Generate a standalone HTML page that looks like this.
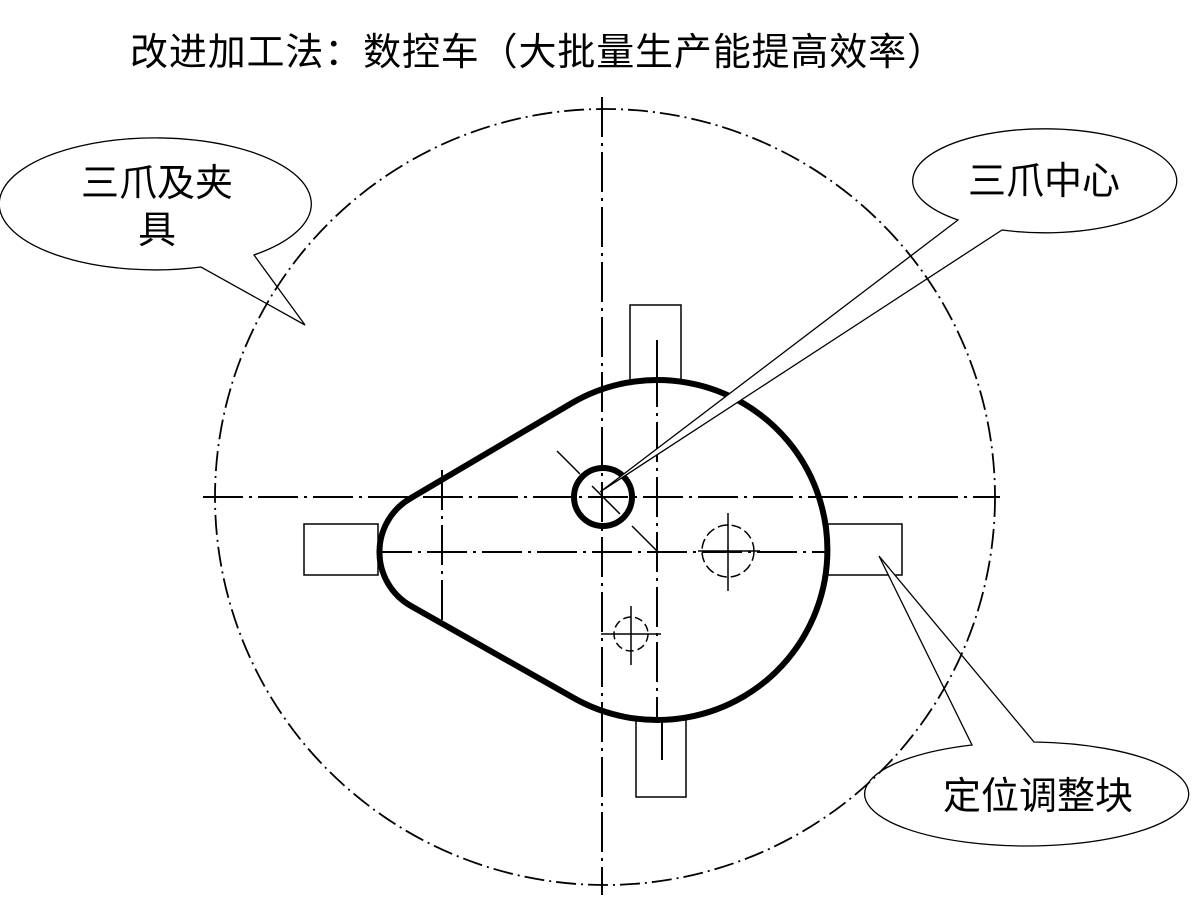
<!DOCTYPE html>
<html><head><meta charset="utf-8"><style>
html,body{margin:0;padding:0;background:#fff;width:1200px;height:900px;overflow:hidden}
svg{display:block}
text{font-family:"Liberation Sans","Noto Sans CJK SC",sans-serif;fill:#000}
</style></head><body>
<svg width="1200" height="900" viewBox="0 0 1200 900" xmlns="http://www.w3.org/2000/svg">
<text x="130" y="65" font-size="38" textLength="815" lengthAdjust="spacing">改进加工法：数控车（大批量生产能提高效率）</text>

<!-- center lines -->
<g stroke="#000" stroke-width="2" fill="none" stroke-dasharray="40 6 3 6">
<line x1="602" y1="97" x2="602" y2="895"/>
<line x1="203" y1="497" x2="1000" y2="497"/>
<line x1="372" y1="552" x2="845" y2="552"/>
<line x1="657" y1="367" x2="657" y2="720"/>
<line x1="442" y1="470" x2="442" y2="620"/>
</g>

<!-- rectangles -->
<g stroke="#000" stroke-width="1.5" fill="#fff">
<rect x="630" y="305" width="51" height="75"/>
<rect x="636" y="720" width="50" height="77"/>
<rect x="304" y="524" width="74" height="51"/>
<rect x="828" y="524" width="74" height="51"/>
</g>
<g stroke="#000" stroke-width="2" stroke-dasharray="40 6 3 6">
<line x1="657" y1="340" x2="657" y2="380"/>
<line x1="662" y1="720" x2="662" y2="760"/>
</g>

<!-- cam -->
<path d="M572,403 A170,170 0 1 1 572,697 L411,606 A62,62 0 0 1 411,498 Z" fill="none" stroke="#000" stroke-width="6"/>

<!-- center circle -->
<circle cx="603" cy="497" r="29" fill="none" stroke="#000" stroke-width="6"/>
<g stroke="#000" stroke-width="1.5">
<line x1="557" y1="451" x2="580" y2="474"/>
<line x1="592" y1="486" x2="620" y2="514"/>
<line x1="632" y1="526" x2="657" y2="551"/>
</g>

<!-- dashed holes -->
<g stroke="#000" stroke-width="1.5" fill="none">
<circle cx="728" cy="551" r="26" stroke-dasharray="10 4"/>
<line x1="728" y1="513" x2="728" y2="591"/>
<line x1="698" y1="551" x2="760" y2="551"/>
<circle cx="631" cy="634" r="17" stroke-dasharray="8 4"/>
<line x1="631" y1="606" x2="631" y2="665"/>
<line x1="601" y1="634" x2="661" y2="634"/>
</g>

<!-- callout 1 -->
<path d="M201,267 A156,66 0 1 1 254,255 L305,325 Z" fill="#fff" stroke="#000" stroke-width="1.3"/>
<text x="157" y="196" font-size="38" text-anchor="middle">三爪及夹</text>
<text x="157" y="243" font-size="38" text-anchor="middle">具</text>

<!-- callout 2 -->
<path d="M958,220 A132,52 0 1 1 1002,230 L600,492 Z" fill="#fff" stroke="#000" stroke-width="1.3"/>
<text x="1044" y="194" font-size="38" text-anchor="middle">三爪中心</text>

<!-- callout 3 -->
<path d="M972,745 A162,52 0 1 0 1034,742 L879,556 Z" fill="#fff" stroke="#000" stroke-width="1.3"/>
<text x="1038" y="809" font-size="38" text-anchor="middle">定位调整块</text>

<!-- big dash-dot circle on top -->
<ellipse cx="605" cy="497" rx="390" ry="388" fill="none" stroke="#000" stroke-width="1.8" stroke-dasharray="20 5 2 5"/>
</svg>
</body></html>
